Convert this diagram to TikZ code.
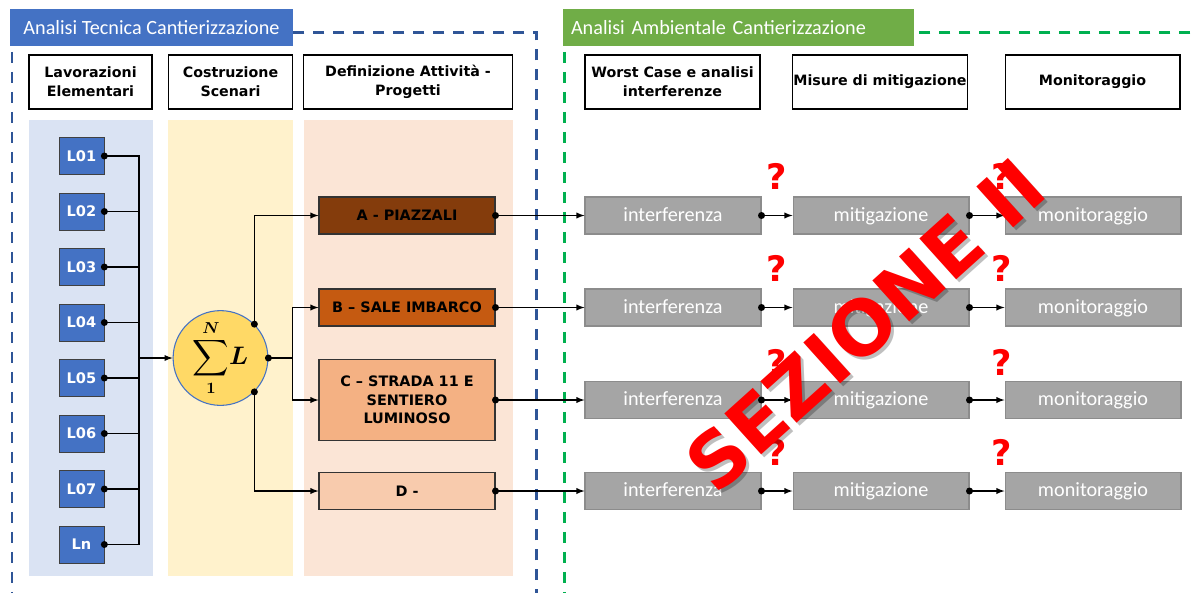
\documentclass[tikz,border=0pt]{standalone}
\usepackage{amsmath}
\usepackage[no-math]{fontspec}
\setmainfont{DejaVu Sans}
\newfontfamily\calfont{Carlito}
\usetikzlibrary{arrows}

\definecolor{tecblue}{HTML}{4472C4}
\definecolor{frameblue}{HTML}{2F5597}
\definecolor{ambgreen}{HTML}{70AD47}
\definecolor{framegreen}{HTML}{00B050}
\definecolor{colblue}{HTML}{DAE3F3}
\definecolor{colyellow}{HTML}{FFF2CC}
\definecolor{colpeach}{HTML}{FBE5D6}
\definecolor{sumyellow}{HTML}{FFD966}
\definecolor{prjA}{HTML}{843C0C}
\definecolor{prjB}{HTML}{C55A11}
\definecolor{prjC}{HTML}{F4B183}
\definecolor{prjD}{HTML}{F8CBAD}
\definecolor{boxgray}{HTML}{A5A5A5}
\definecolor{edgegray}{HTML}{8C8C8C}

\newcommand\sumL{\fontsize{13.5}{15}\selectfont$\displaystyle\sum_{\boldsymbol{1}}^{\boldsymbol{N}}\!\boldsymbol{L}$}

\tikzset{
	band/.style={minimum height=0.74cm, inner sep=0pt, text=white, font=\calfont\fontsize{11.5}{13}\selectfont},
	dashframe/.style={dash pattern=on 0.23cm off 0.17cm, line width=0.06cm},
	header/.style={draw, fill=white, line width=0.6pt, minimum height=1.08cm, inner sep=0pt, align=center, font=\bfseries\fontsize{8.1}{10.8}\selectfont},
	lav/.style={draw=black!75, fill=tecblue, text=white, minimum width=0.9cm, minimum height=0.74cm, inner sep=0pt, font=\bfseries\fontsize{8.3}{10}\selectfont},
	sumnode/.style={circle, draw=tecblue, line width=0.6pt, fill=sumyellow, minimum size=1.78cm, inner sep=0pt},
	prj/.style={draw=black!80, line width=0.6pt, minimum width=3.52cm, minimum height=0.74cm, inner sep=0pt, align=center, font=\bfseries\fontsize{8.2}{10.5}\selectfont},
	gbox/.style={draw=edgegray, line width=0.6pt, fill=boxgray, text=white, minimum width=3.52cm, minimum height=0.74cm, inner sep=0pt, text height=0.66em, text depth=0pt, font=\calfont\fontsize{11.5}{13}\selectfont},
	qm/.style={text=red, font=\bfseries\fontsize{20}{22}\selectfont},
	link/.style={line width=0.6pt},
	flow/.style={line width=0.6pt, -latex}
}

\begin{document}
\begin{tikzpicture}[x=0.02cm, y=-0.02cm]
		\useasboundingbox (0,0) rectangle (1193,592);
		\fill[colblue] (29,120) rectangle (153,576);
		\fill[colyellow] (168,120) rectangle (293,576);
		\fill[colpeach] (304,120) rectangle (513,576);
		\draw[dashframe, frameblue] (12,32) rectangle (536,594);
		\draw[dashframe, framegreen] (564,32) rectangle (1215,594);
		\node[band, fill=tecblue, minimum width=5.66cm] (tec) at (151.5,27.5) {Analisi Tecnica Cantierizzazione};
		\node[band, fill=ambgreen, text width=6.7cm, inner xsep=0.16cm, align=left] (amb) at (738.5,27.5) {Analisi Ambientale Cantierizzazione};
		\node[header, minimum width=2.46cm] (lavh) at (90.5,82) {Lavorazioni\\Elementari};
		\node[header, minimum width=2.48cm] (cosh) at (230.5,82) {Costruzione\\Scenari};
		\node[header, minimum width=4.18cm] (defh) at (408,82) {Definizione Attività -\\Progetti};
		\node[header, minimum width=3.5cm] (wch) at (672.5,82) {Worst Case e analisi\\interferenze};
		\node[header, minimum width=3.5cm] (mish) at (880,82) {Misure di mitigazione};
		\node[header, minimum width=3.5cm] (monh) at (1092.5,82) {Monitoraggio};
		\node[lav] (l1) at (81.5,156) {L01};
		\node[lav] (l2) at (81.5,211.5) {L02};
		\node[lav] (l3) at (81.5,267) {L03};
		\node[lav] (l4) at (81.5,322.5) {L04};
		\node[lav] (l5) at (81.5,378) {L05};
		\node[lav] (l6) at (81.5,433.5) {L06};
		\node[lav] (l7) at (81.5,489) {L07};
		\node[lav] (ln) at (81.5,544.5) {Ln};
		\node[sumnode] (sigma) at (220.5,358) {\sumL};
		\node[prj, fill=prjA] (pa) at (407,215.5) {A - PIAZZALI};
		\node[prj, fill=prjB] (pb) at (407,307.5) {B – SALE IMBARCO};
		\node[prj, fill=prjC, minimum height=1.62cm] (pc) at (407,400) {C – STRADA 11 E\\SENTIERO\\LUMINOSO};
		\node[prj, fill=prjD] (pd) at (407,491) {D -};
		\node[gbox] (i1) at (673,215.5) {interferenza};
		\node[gbox] (m1) at (881,215.5) {mitigazione};
		\node[gbox] (o1) at (1093,215.5) {monitoraggio};
		\node[gbox] (i2) at (673,307.5) {interferenza};
		\node[gbox] (m2) at (881,307.5) {mitigazione};
		\node[gbox] (o2) at (1093,307.5) {monitoraggio};
		\node[gbox] (i3) at (673,400) {interferenza};
		\node[gbox] (m3) at (881,400) {mitigazione};
		\node[gbox] (o3) at (1093,400) {monitoraggio};
		\node[gbox] (i4) at (673,491) {interferenza};
		\node[gbox] (m4) at (881,491) {mitigazione};
		\node[gbox] (o4) at (1093,491) {monitoraggio};
		\node[qm] (q1m) at (777,176) {?};
		\node[qm] (q1o) at (1002,176) {?};
		\node[qm] (q2m) at (777,268) {?};
		\node[qm] (q2o) at (1002,268) {?};
		\node[qm] (q3m) at (777,362) {?};
		\node[qm] (q3o) at (1002,362) {?};
		\node[qm] (q4m) at (777,452) {?};
		\node[qm] (q4o) at (1002,452) {?};
		\coordinate (bus) at (139,358);
		\coordinate (split) at (292.5,358);
		\draw[link] (l1.east) -- (l1.east -| bus) -- (ln.east -| bus) -- (ln.east);
		\draw[link] (l2.east) -- (l2.east -| bus);
		\draw[link] (l3.east) -- (l3.east -| bus);
		\draw[link] (l4.east) -- (l4.east -| bus);
		\draw[link] (l5.east) -- (l5.east -| bus);
		\draw[link] (l6.east) -- (l6.east -| bus);
		\draw[link] (l7.east) -- (l7.east -| bus);
		\draw[flow] (bus) -- (sigma.west);
		\draw[flow] (sigma.45) |- (pa.west);
		\draw[flow] (sigma.-45) |- (pd.west);
		\draw[link] (sigma.east) -- (split);
		\draw[flow] (split) |- (pb.west);
		\draw[flow] (split) |- (pc.west);
		\draw[flow] (pa.east) -- (i1.west);
		\draw[flow] (pb.east) -- (i2.west);
		\draw[flow] (pc.east) -- (i3.west);
		\draw[flow] (pd.east) -- (i4.west);
		\draw[flow] (i1.east) -- (m1.west);
		\draw[flow] (i2.east) -- (m2.west);
		\draw[flow] (i3.east) -- (m3.west);
		\draw[flow] (i4.east) -- (m4.west);
		\draw[flow] (m1.east) -- (o1.west);
		\draw[flow] (m2.east) -- (o2.west);
		\draw[flow] (m3.east) -- (o3.west);
		\draw[flow] (m4.east) -- (o4.west);
		\foreach \p in {l1,l2,l3,l4,l5,l6,l7,ln,pa,pb,pc,pd,i1,i2,i3,i4,m1,m2,m3,m4,sigma}
			\fill (\p.east) circle (0.07cm);
		\fill (sigma.45) circle (0.07cm);
		\fill (sigma.-45) circle (0.07cm);
		\node[rotate=42, text=black, opacity=0.25, font=\bfseries\fontsize{43}{47}\selectfont] (sezshadow) at (868,328) {SEZIONE II};
		\node[rotate=42, text=red, font=\bfseries\fontsize{43}{47}\selectfont] (sez) at (865,325) {SEZIONE II};
		\end{tikzpicture}
\end{document}
